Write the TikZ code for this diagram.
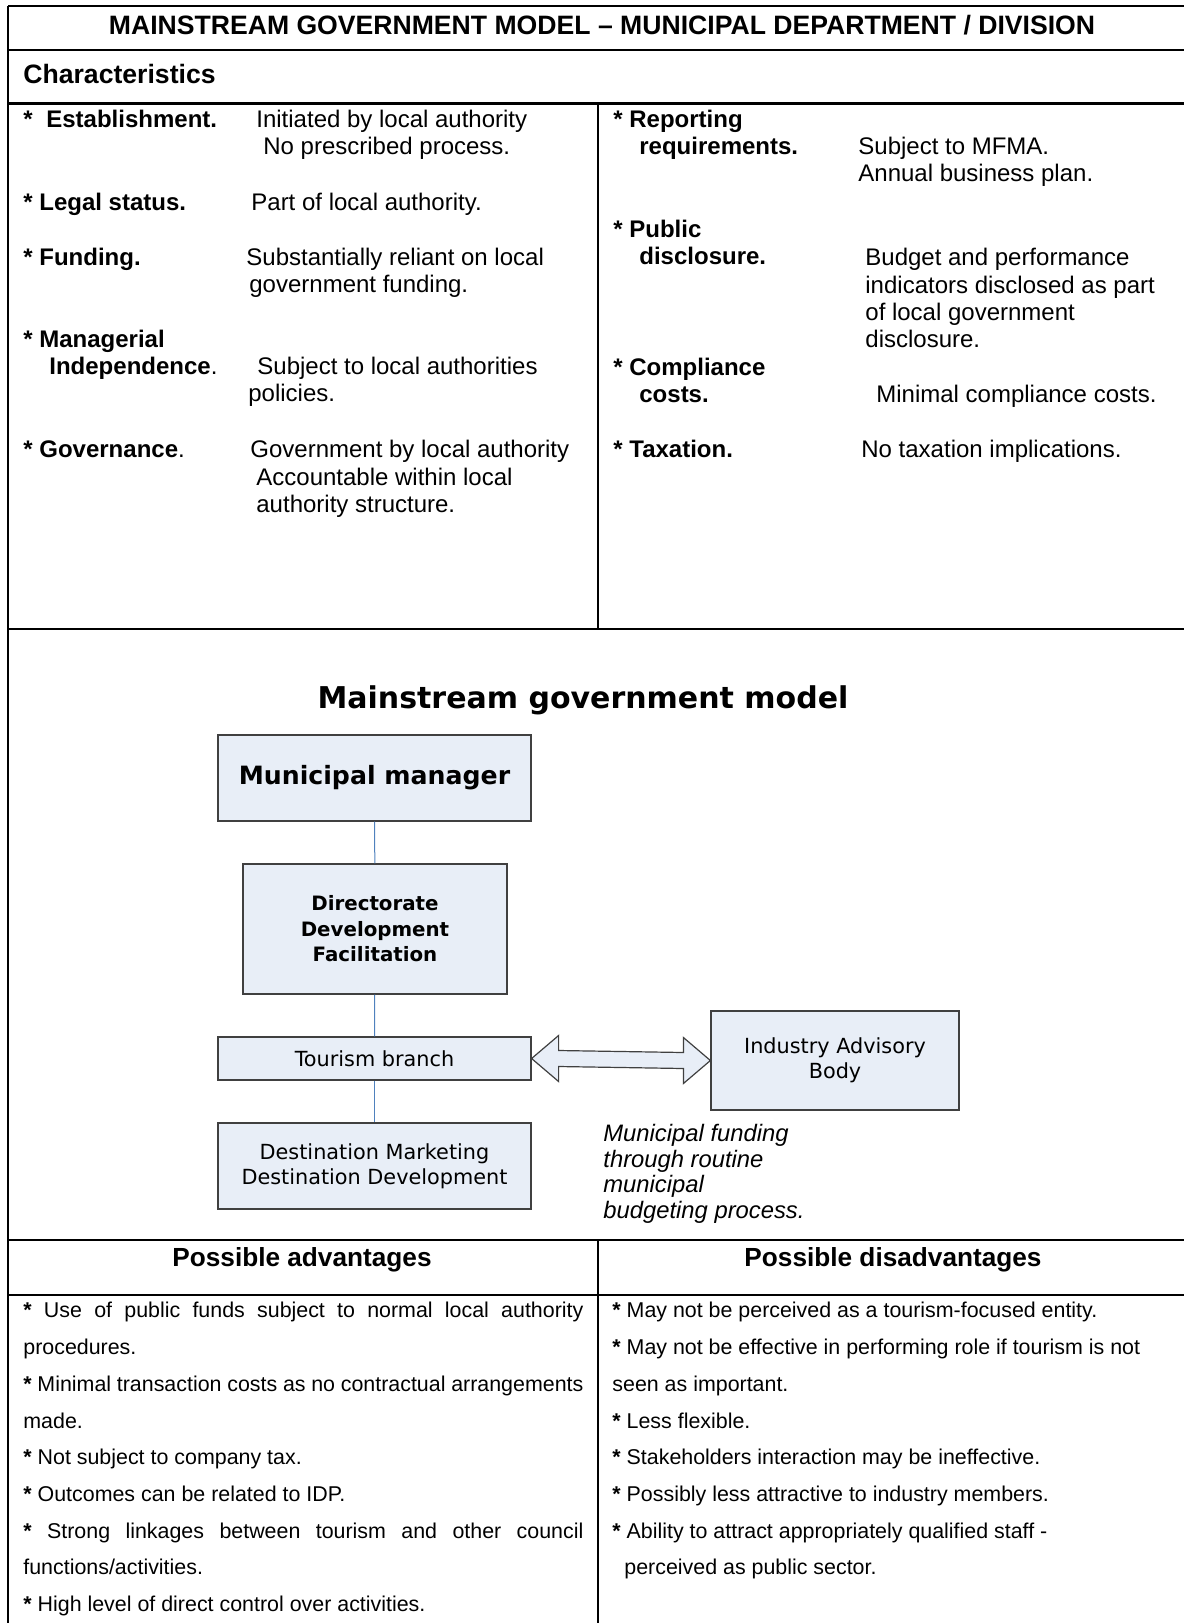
\documentclass[tikz,border=0pt]{standalone}
\usepackage{fontspec}
\setmainfont{Liberation Sans}
\newfontfamily\dvsans{DejaVu Sans}
\usetikzlibrary{calc}
\definecolor{boxfill}{HTML}{E8EEF7}
\definecolor{boxline}{HTML}{404040}
\definecolor{linkline}{HTML}{4F81BD}

\begin{document}
\begin{tikzpicture}[x=0.5pt,y=-0.5pt,
  rule/.style={line width=1.2pt},
  vrule/.style={line width=0.7pt},
  head/.style={inner sep=0pt,font=\fontsize{13.1}{15}\selectfont\bfseries},
  key/.style={anchor=north west,inner sep=0pt,align=left,font=\fontsize{12}{13.6}\selectfont\bfseries},
  val/.style={anchor=north west,inner sep=0pt,align=left,font=\fontsize{12}{13.6}\selectfont},
  item/.style={anchor=north west,inner sep=0pt,align=left,font=\fontsize{10.7}{18.35}\selectfont},
  shade/.style={draw=boxline,fill=boxfill,line width=0.6pt},
  org/.style={shade,inner sep=0pt,align=center,font=\dvsans\fontsize{10.4}{12.7}\selectfont},
  link/.style={draw=linkline,line width=0.5pt}]

\useasboundingbox (0,0) rectangle (1184,1623);
\draw[rule] (8,6) -- (1184,6) (8,50) -- (1184,50) (8,103.5) -- (1184,103.5)
  (8,629) -- (1184,629) (8,1240) -- (1184,1240) (8,1295) -- (1184,1295);
\draw[vrule] (8,6) -- (8,1623) (598,103.5) -- (598,629) (598,1240) -- (598,1623);

\node[head,font=\fontsize{13.3}{15}\selectfont\bfseries] (title) at (602,25)
  {MAINSTREAM GOVERNMENT MODEL – MUNICIPAL DEPARTMENT / DIVISION};
\node[head,anchor=west,font=\fontsize{13.3}{15}\selectfont\bfseries] (chr) at (23,73.5) {Characteristics};

\node[key] (est) at (23,110) {*\hspace{3.5pt} Establishment.};
\node[val] (estv) at (256,110) {Initiated by local authority\\\hspace*{3.5pt}No prescribed process.};
\node[key] (leg) at (23,193) {* Legal status.};
\node[val] (legv) at (251,193) {Part of local authority.};
\node[key] (fun) at (23,248) {* Funding.};
\node[val] (funv) at (246,248) {Substantially reliant on local\\\hspace*{1.5pt}government funding.};
\node[key] (man) at (23,330) {* Managerial\\\hspace*{13pt}Independence\mdseries.};
\node[val] (manv) at (248,357) {\hspace*{4.5pt}Subject to local authorities\\policies.};
\node[key] (gov) at (23,440) {* Governance\mdseries.};
\node[val] (govv) at (250,440) {Government by local authority\\\hspace*{3pt}Accountable within local\\\hspace*{3pt}authority structure.};

\node[key] (rep) at (613,110) {* Reporting\\\hspace*{13pt}requirements.};
\node[val] (repv) at (858,137) {Subject to MFMA.\\Annual business plan.};
\node[key] (pub) at (613,220) {* Public\\\hspace*{13pt}disclosure.};
\node[val] (pubv) at (865,248) {Budget and performance\\indicators disclosed as part\\of local government\\disclosure.};
\node[key] (com) at (613,358) {* Compliance\\\hspace*{13pt}costs.};
\node[val] (comv) at (876,385) {Minimal compliance costs.};
\node[key] (tax) at (613,440) {* Taxation.};
\node[val] (taxv) at (861,440) {No taxation implications.};

\node[inner sep=0pt,font=\dvsans\bfseries\fontsize{15}{18}\selectfont] (dtitle) at (583,700) {Mainstream government model};
\node[org,font=\dvsans\bfseries\fontsize{12.6}{15}\selectfont,minimum width=156.5pt,minimum height=43pt] (mm) at (374.5,778) {Municipal manager};
\node[org,font=\dvsans\bfseries\fontsize{9.9}{12.7}\selectfont,minimum width=132pt,minimum height=65pt] (ddf) at (375,929) {Directorate\\Development\\Facilitation};
\node[org,minimum width=156.5pt,minimum height=21.5pt] (tb) at (374.5,1058.5) {Tourism branch};
\node[org,minimum width=156.5pt,minimum height=43pt] (dmd) at (374.5,1166) {Destination Marketing\\Destination Development};
\node[org,minimum width=124pt,minimum height=49.5pt] (iab) at (835,1060.5) {Industry Advisory\\Body};
\draw[link] (mm) -- (ddf);
\draw[link] (ddf) -- (tb);
\draw[link] (tb) -- (dmd);
\draw[shade] (tb.east) -- ++(27,-23) -- ++(0,15) -- ($(iab.west)+(-27,-8)$) -- ++(0,-15)
  -- (iab.west) -- ++(-27,23) -- ++(0,-15) -- ($(tb.east)+(27,8)$) -- ++(0,15) -- cycle;
\node[anchor=north west,inner sep=0pt,align=left,font=\itshape\fontsize{11.9}{12.75}\selectfont] (note) at (603,1124)
  {Municipal funding\\through routine\\municipal\\budgeting process.};

\node[head] (adv) at (302,1260) {Possible advantages};
\node[head] (dis) at (893,1260) {Possible disadvantages};
\node[item] (advl) at (23,1302) {\makebox[280pt][s]{\textbf{*} Use of public funds subject to normal local authority}\\procedures.\\\makebox[280pt][s]{\textbf{*} Minimal transaction costs as no contractual arrangements}\\made.\\\textbf{*} Not subject to company tax.\\\textbf{*} Outcomes can be related to IDP.\\\makebox[280pt][s]{\textbf{*} Strong linkages between tourism and other council}\\functions/activities.\\\textbf{*} High level of direct control over activities.};
\node[item] (disl) at (612,1302) {\textbf{*} May not be perceived as a tourism-focused entity.\\\textbf{*} May not be effective in performing role if tourism is not\\seen as important.\\\textbf{*} Less flexible.\\\textbf{*} Stakeholders interaction may be ineffective.\\\textbf{*} Possibly less attractive to industry members.\\\textbf{*} Ability to attract appropriately qualified staff -\\\hspace*{6pt}perceived as public sector.};
\end{tikzpicture}
\end{document}
